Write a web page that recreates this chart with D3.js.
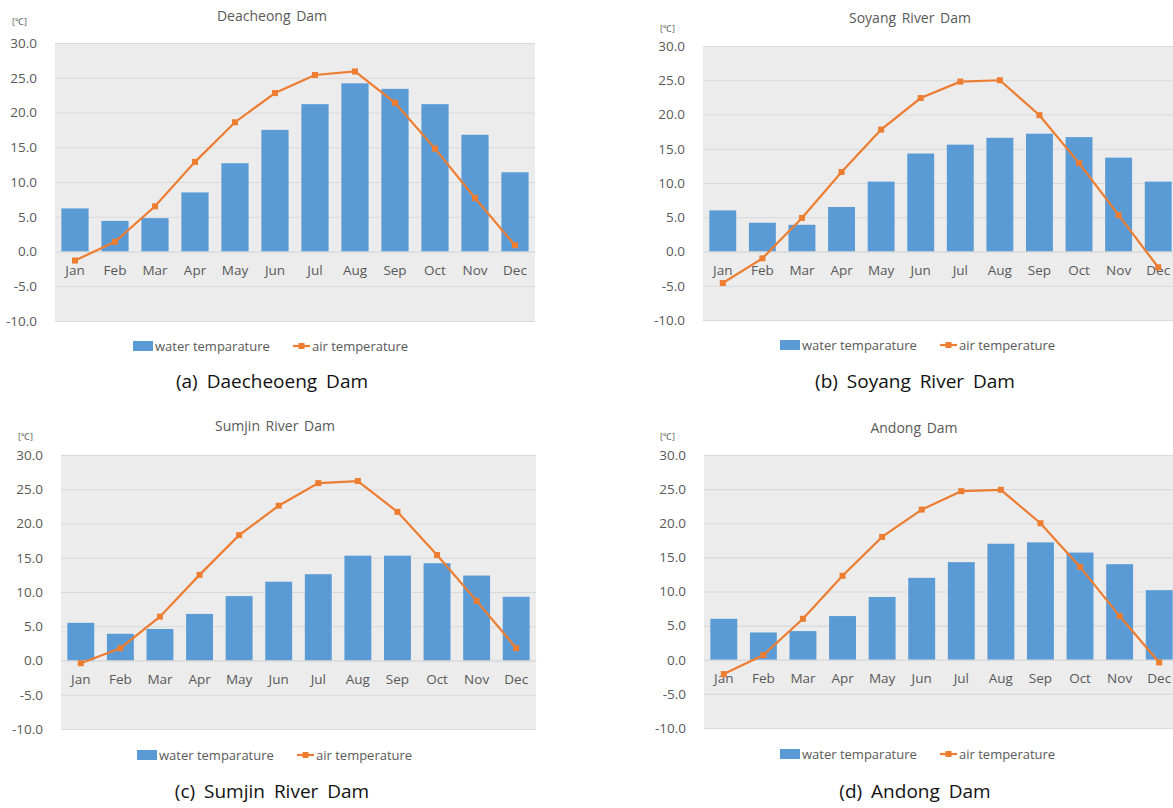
<!DOCTYPE html>
<html>
<head>
<meta charset="utf-8">
<script src="https://cdn.jsdelivr.net/npm/d3@7"></script>
<style>
  body { margin: 0; background: #fff; }
  svg { display: block; }
</style>
</head>
<body>
<div id="wrapper"></div>
<script>
// values
const months = ["Jan","Feb","Mar","Apr","May","Jun","Jul","Aug","Sep","Oct","Nov","Dec"];
const yTicks = [30, 25, 20, 15, 10, 5, 0, -5, -10];
const seriesNames = ["water temparature", "air temperature"];

const daecheongWater = [6.2, 4.4, 4.8, 8.5, 12.7, 17.5, 21.2, 24.2, 23.4, 21.2, 16.8, 11.4];
const daecheongAir   = [-1.3, 1.4, 6.5, 12.9, 18.6, 22.8, 25.4, 25.9, 21.4, 14.8, 7.7, 0.9];

const soyangWater = [6.0, 4.2, 3.9, 6.5, 10.2, 14.3, 15.6, 16.6, 17.2, 16.7, 13.7, 10.2];
const soyangAir   = [-4.6, -1.0, 4.9, 11.6, 17.8, 22.4, 24.8, 25.0, 19.9, 12.9, 5.3, -2.3];

const sumjinWater = [5.5, 3.9, 4.6, 6.8, 9.4, 11.5, 12.6, 15.3, 15.3, 14.2, 12.4, 9.3];
const sumjinAir   = [-0.4, 1.8, 6.4, 12.5, 18.3, 22.6, 25.9, 26.2, 21.7, 15.4, 8.7, 1.8];

const andongWater = [6.0, 4.0, 4.2, 6.4, 9.2, 12.0, 14.3, 17.0, 17.2, 15.7, 14.0, 10.2];
const andongAir   = [-2.1, 0.7, 6.0, 12.3, 18.0, 22.0, 24.7, 24.9, 20.0, 13.6, 6.4, -0.4];

const titles   = ["Deacheong Dam", "Soyang River Dam", "Sumjin River Dam", "Andong Dam"];
const captions = ["(a) Daecheoeng Dam", "(b) Soyang River Dam", "(c) Sumjin River Dam", "(d) Andong Dam"];

const barColor = "#5B9BD5";
const lineColor = "#ED7D31";
const textColor = "#595959";
const font = "'Open Sans', 'Noto Sans', sans-serif";

// layout of each panel
const panels = [
    {water: daecheongWater, air: daecheongAir, left: 55, right: 535, top: 43, bottom: 321,
     titleX: 272, titleY: 21, unitX: 12, unitY: 25, legendX: 133, legendY: 346, captionX: 272, captionY: 388},
    {water: soyangWater, air: soyangAir, left: 703, right: 1178, top: 46, bottom: 320,
     titleX: 910, titleY: 23, unitX: 660, unitY: 32, legendX: 780, legendY: 345, captionX: 915, captionY: 388},
    {water: sumjinWater, air: sumjinAir, left: 61, right: 536, top: 455, bottom: 729,
     titleX: 275, titleY: 431, unitX: 18, unitY: 440, legendX: 137, legendY: 755, captionX: 272, captionY: 798},
    {water: andongWater, air: andongAir, left: 704, right: 1179, top: 455, bottom: 728,
     titleX: 914, titleY: 433, unitX: 660, unitY: 440, legendX: 780, legendY: 754, captionX: 915, captionY: 798}
];

const svg = d3.select("#wrapper")
    .append("svg")
    .attr("width", 1173)
    .attr("height", 808)
    .style("font-family", font);

panels.forEach((p, i) => {
    const g = svg.append("g");

    const xScale = d3.scaleBand()
        .domain(months)
        .range([p.left, p.right])
        .paddingInner(0.32)
        .paddingOuter(0.16);

    const yScale = d3.scaleLinear()
        .domain([-10, 30])
        .range([p.bottom, p.top]);

    // plot background
    g.append("rect")
        .attr("x", p.left)
        .attr("y", p.top)
        .attr("width", p.right - p.left)
        .attr("height", p.bottom - p.top)
        .attr("fill", "#ECECEC");

    // y axis + grid
    const yAxis = g.append("g")
        .attr("transform", `translate(${p.left},0)`)
        .call(d3.axisLeft(yScale)
            .tickValues(yTicks)
            .tickFormat(d3.format(".1f"))
            .tickSize(-(p.right - p.left))
            .tickPadding(18));
    yAxis.select(".domain").remove();
    yAxis.selectAll(".tick line").attr("stroke", "#D9D9D9").attr("stroke-width", 1.2);
    yAxis.selectAll(".tick text")
        .attr("fill", textColor)
        .style("font-size", "13.5px")
        .style("font-family", font)
        .text(d => d3.format(".1f")(d).replace("−", "-"));

    // bars
    g.selectAll(".bar")
        .data(p.water)
        .join("rect")
        .attr("x", (d, j) => xScale(months[j]))
        .attr("y", d => yScale(d))
        .attr("width", xScale.bandwidth())
        .attr("height", d => yScale(0) - yScale(d))
        .attr("fill", barColor);

    // x axis at zero
    const xAxis = g.append("g")
        .attr("transform", `translate(0,${yScale(0)})`)
        .call(d3.axisBottom(xScale).tickSize(0).tickPadding(14));
    xAxis.select(".domain").attr("stroke", "#D9D9D9");
    xAxis.selectAll(".tick text")
        .attr("fill", textColor)
        .style("font-size", "13.5px")
        .style("font-family", font);

    // air temperature line
    const line = d3.line()
        .x((d, j) => xScale(months[j]) + xScale.bandwidth() / 2)
        .y(d => yScale(d));

    g.append("path")
        .datum(p.air)
        .attr("d", line)
        .attr("fill", "none")
        .attr("stroke", lineColor)
        .attr("stroke-width", 2.2);

    g.selectAll(".marker")
        .data(p.air)
        .join("rect")
        .attr("x", (d, j) => xScale(months[j]) + xScale.bandwidth() / 2 - 3)
        .attr("y", d => yScale(d) - 3)
        .attr("width", 6)
        .attr("height", 6)
        .attr("fill", lineColor);

    // title, unit
    g.append("text")
        .attr("x", p.titleX)
        .attr("y", p.titleY)
        .attr("text-anchor", "middle")
        .attr("fill", textColor)
        .style("font-size", "14px")
        .style("word-spacing", "2px")
        .text(titles[i]);

    g.append("text")
        .attr("x", p.unitX)
        .attr("y", p.unitY)
        .attr("fill", textColor)
        .style("font-size", "9px")
        .text("[℃]");

    // legend
    const legend = g.append("g")
        .attr("transform", `translate(${p.legendX},${p.legendY})`);
    legend.append("rect")
        .attr("x", 0).attr("y", -5)
        .attr("width", 20).attr("height", 10)
        .attr("fill", barColor);
    legend.append("text")
        .attr("x", 22).attr("y", 4.5)
        .attr("fill", textColor)
        .style("font-size", "13px")
        .text(seriesNames[0]);
    legend.append("line")
        .attr("x1", 160).attr("x2", 177)
        .attr("y1", 0).attr("y2", 0)
        .attr("stroke", lineColor).attr("stroke-width", 2.2);
    legend.append("rect")
        .attr("x", 165.5).attr("y", -3)
        .attr("width", 6).attr("height", 6)
        .attr("fill", lineColor);
    legend.append("text")
        .attr("x", 179).attr("y", 4.5)
        .attr("fill", textColor)
        .style("font-size", "13px")
        .text(seriesNames[1]);

    // caption
    g.append("text")
        .attr("x", p.captionX)
        .attr("y", p.captionY)
        .attr("text-anchor", "middle")
        .attr("fill", "#111")
        .style("font-size", "19px")
        .style("word-spacing", "4px")
        .text(captions[i]);
});
</script>
</body>
</html>
